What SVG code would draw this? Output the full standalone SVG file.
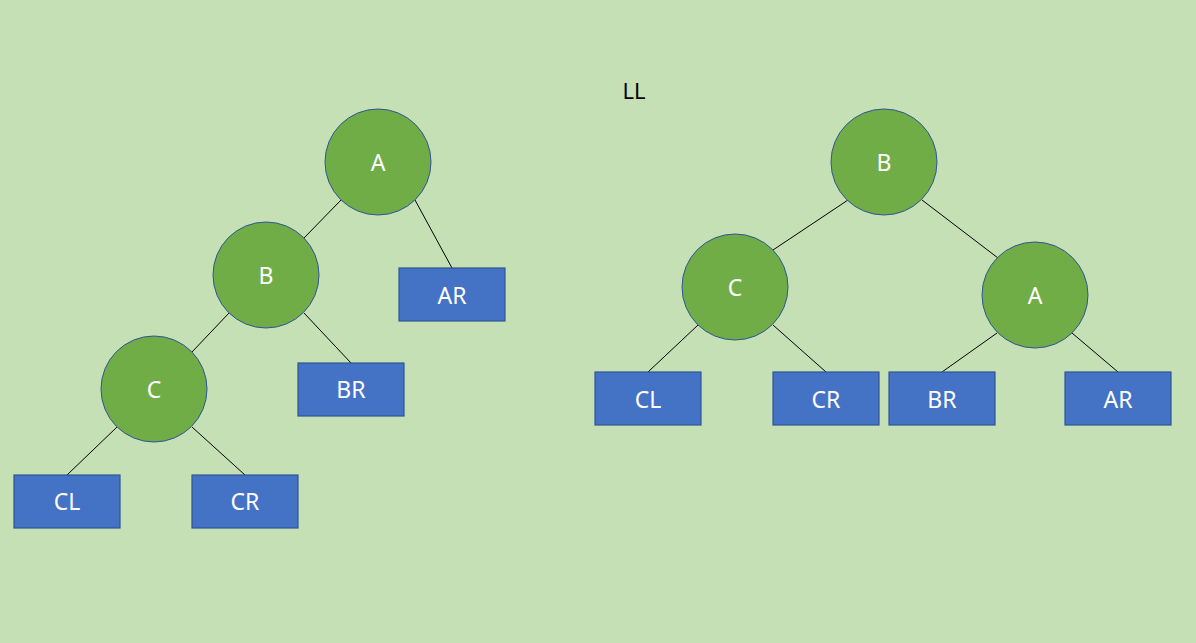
<svg xmlns="http://www.w3.org/2000/svg" width="1196" height="643" viewBox="0 0 1196 643">
<style>
.bg{fill:#C5E0B4}
.c{fill:#70AD47;stroke:#2F5597;stroke-width:1}
.r{fill:#4472C4;stroke:#2F5597;stroke-width:1.2}
.t{fill:#FFFFFF;font-family:"Noto Sans","DejaVu Sans",sans-serif;font-size:23px;text-anchor:middle;dominant-baseline:central}
.e{stroke:#000000;stroke-width:1;fill:none}
.title{fill:#000000;font-family:"Noto Sans","DejaVu Sans",sans-serif;font-size:22px;text-anchor:middle;dominant-baseline:central}
</style>
<rect class="bg" x="0" y="0" width="1196" height="643"/>
<g id="connectors">
<line class="e" x1="341" y1="200" x2="304" y2="238"/>
<line class="e" x1="415" y1="200" x2="452" y2="268"/>
<line class="e" x1="229" y1="313" x2="192" y2="352"/>
<line class="e" x1="304" y1="313" x2="351" y2="363"/>
<line class="e" x1="117" y1="427" x2="67" y2="475"/>
<line class="e" x1="192" y1="427" x2="245" y2="475"/>
<line class="e" x1="848" y1="200" x2="773" y2="250"/>
<line class="e" x1="922" y1="200" x2="998" y2="258"/>
<line class="e" x1="698" y1="325" x2="648" y2="372"/>
<line class="e" x1="773" y1="325" x2="826" y2="372"/>
<line class="e" x1="997" y1="333" x2="942" y2="372"/>
<line class="e" x1="1072" y1="333" x2="1118" y2="372"/>
</g>
<g id="title"><text class="title" x="634" y="90">LL</text></g>
<g id="L_A"><circle class="c" cx="378" cy="162" r="53"/><text class="t" x="378" y="162">A</text></g>
<g id="L_B"><circle class="c" cx="266" cy="275" r="53"/><text class="t" x="266" y="275">B</text></g>
<g id="L_C"><circle class="c" cx="154" cy="389" r="53"/><text class="t" x="154" y="389">C</text></g>
<g id="L_AR"><rect class="r" x="399" y="268" width="106" height="53"/><text class="t" x="452" y="295">AR</text></g>
<g id="L_BR"><rect class="r" x="298" y="363" width="106" height="53"/><text class="t" x="351" y="389">BR</text></g>
<g id="L_CL"><rect class="r" x="14" y="475" width="106" height="53"/><text class="t" x="67" y="501">CL</text></g>
<g id="L_CR"><rect class="r" x="192" y="475" width="106" height="53"/><text class="t" x="245" y="501">CR</text></g>
<g id="R_B"><circle class="c" cx="884" cy="162" r="53"/><text class="t" x="884" y="162">B</text></g>
<g id="R_C"><circle class="c" cx="735" cy="287" r="53"/><text class="t" x="735" y="287">C</text></g>
<g id="R_A"><circle class="c" cx="1035" cy="295" r="53"/><text class="t" x="1035" y="295">A</text></g>
<g id="R_CL"><rect class="r" x="595" y="372" width="106" height="53"/><text class="t" x="648" y="399">CL</text></g>
<g id="R_CR"><rect class="r" x="773" y="372" width="106" height="53"/><text class="t" x="826" y="399">CR</text></g>
<g id="R_BR"><rect class="r" x="889" y="372" width="106" height="53"/><text class="t" x="942" y="399">BR</text></g>
<g id="R_AR"><rect class="r" x="1065" y="372" width="106" height="53"/><text class="t" x="1118" y="399">AR</text></g>
</svg>
